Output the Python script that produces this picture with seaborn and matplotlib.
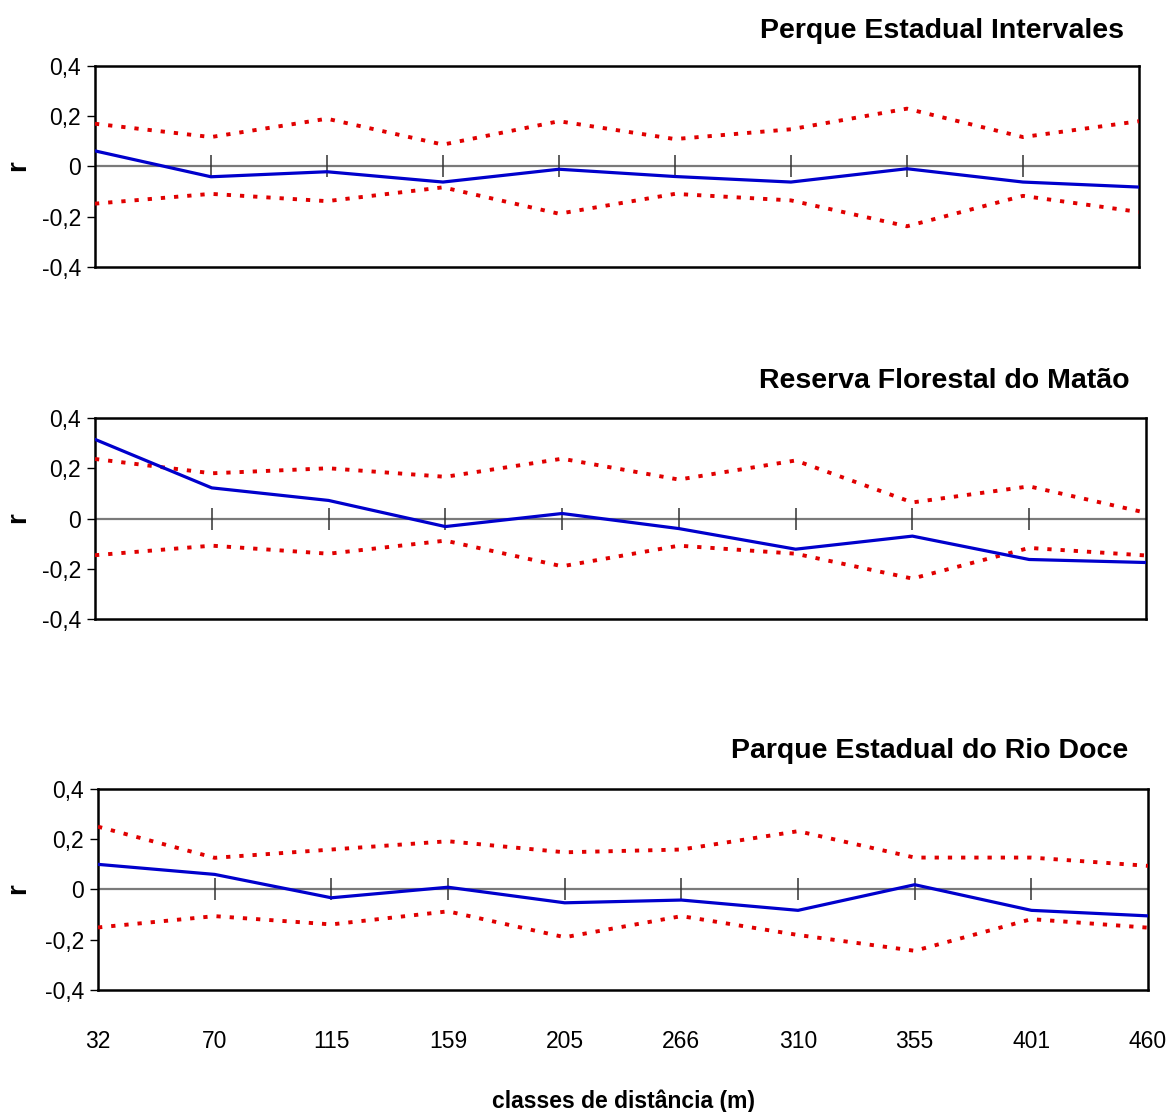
import numpy as np
import pandas as pd
import matplotlib
matplotlib.use("Agg")
import matplotlib.pyplot as plt
import seaborn as sns

# distance classes (m)
classes = ["32", "70", "115", "159", "205", "266", "310", "355", "401", "460"]

# Perque Estadual Intervales
r_intervales = [0.062, -0.041, -0.021, -0.062, -0.011, -0.040, -0.062, -0.009, -0.062, -0.082]
up_intervales = [0.17, 0.117, 0.19, 0.087, 0.18, 0.109, 0.148, 0.23, 0.117, 0.18]
lo_intervales = [-0.148, -0.109, -0.138, -0.083, -0.188, -0.109, -0.135, -0.238, -0.117, -0.181]

# Reserva Florestal do Matão
r_matao = [0.315, 0.122, 0.072, -0.032, 0.02, -0.04, -0.122, -0.07, -0.163, -0.175]
up_matao = [0.237, 0.18, 0.2, 0.166, 0.238, 0.155, 0.231, 0.064, 0.128, 0.023]
lo_matao = [-0.146, -0.108, -0.14, -0.088, -0.19, -0.108, -0.14, -0.239, -0.117, -0.147]

# Parque Estadual do Rio Doce
r_riodoce = [0.10, 0.06, -0.033, 0.009, -0.053, -0.042, -0.083, 0.019, -0.083, -0.105]
up_riodoce = [0.25, 0.126, 0.159, 0.192, 0.148, 0.159, 0.232, 0.127, 0.127, 0.094]
lo_riodoce = [-0.151, -0.106, -0.139, -0.087, -0.19, -0.106, -0.181, -0.244, -0.118, -0.152]

titles = ["Perque Estadual Intervales", "Reserva Florestal do Matão", "Parque Estadual do Rio Doce"]
yticks = [-0.4, -0.2, 0, 0.2, 0.4]
yticklabels = ["-0,4", "-0,2", "0", "0,2", "0,4"]

sns.set_style("white")
plt.rcParams["font.family"] = ["Liberation Sans Narrow", "Liberation Sans", "DejaVu Sans"]
plt.rcParams["text.color"] = "black"
plt.rcParams["xtick.color"] = "black"
plt.rcParams["ytick.color"] = "black"
plt.rcParams["axes.labelcolor"] = "black"

fig = plt.figure(figsize=(11.71, 11.12), dpi=100)

# axes rectangles [left, bottom, width, height] and title anchors
rects = [[0.0811, 0.7599, 0.8915, 0.1808],
         [0.0811, 0.4433, 0.8975, 0.1808],
         [0.0837, 0.1097, 0.8967, 0.1808]]
title_pos = [(1124 / 1171, 1 - 31 / 1112), (1130 / 1171, 1 - 381 / 1112), (1128 / 1171, 1 - 751 / 1112)]
rlabel_y = [1 - 166 / 1112, 1 - 518 / 1112, 1 - 889 / 1112]

panels = [(r_intervales, up_intervales, lo_intervales),
          (r_matao, up_matao, lo_matao),
          (r_riodoce, up_riodoce, lo_riodoce)]

xpos = np.arange(len(classes))
blue = "#0000CC"
red = "#E00000"

for i, (r, up, lo) in enumerate(panels):
    ax = fig.add_axes(rects[i])
    df = pd.DataFrame({"x": xpos, "r": r, "up": up, "lo": lo})
    ax.axhline(0, color="#7a7a7a", lw=1.6, zorder=1)
    # cross ticks on the zero line at the interior classes
    ax.plot(df["x"][1:-1], np.zeros(len(df) - 2), ls="none", marker="|",
            markersize=16, markeredgewidth=1.1, color="#333333", zorder=2)
    sns.lineplot(data=df, x="x", y="up", ax=ax, color=red, lw=2.8,
                 linestyle=(0, (1.1, 2.3)), zorder=3)
    sns.lineplot(data=df, x="x", y="lo", ax=ax, color=red, lw=2.8,
                 linestyle=(0, (1.1, 2.3)), zorder=3)
    sns.lineplot(data=df, x="x", y="r", ax=ax, color=blue, lw=2.3, zorder=4)

    ax.set_xlim(0, len(classes) - 1)
    ax.set_ylim(-0.4, 0.4)
    ax.set_yticks(yticks)
    ax.set_yticklabels(yticklabels, fontsize=16.5)
    ax.tick_params(axis="y", length=6, width=1, direction="out", left=True, pad=4)
    ax.set_ylabel("")
    fig.text(18 / 1171, rlabel_y[i], "r", rotation=90, ha="center", va="center",
             fontsize=20, fontweight="bold")
    for s in ax.spines.values():
        s.set_color("black")
        s.set_linewidth(1.8)

    if i == 2:
        ax.set_xticks(xpos)
        ax.set_xticklabels(classes, fontsize=16.5)
        ax.tick_params(axis="x", length=0, pad=29)
        ax.set_xlabel("classes de distância (m)", fontsize=16.5, fontweight="bold", labelpad=26)
    else:
        ax.set_xticks([])
        ax.set_xlabel("")

    fig.text(title_pos[i][0], title_pos[i][1], titles[i], ha="right", va="center",
             fontsize=20.5, fontweight="bold")

fig.savefig("out.png", dpi=100)
